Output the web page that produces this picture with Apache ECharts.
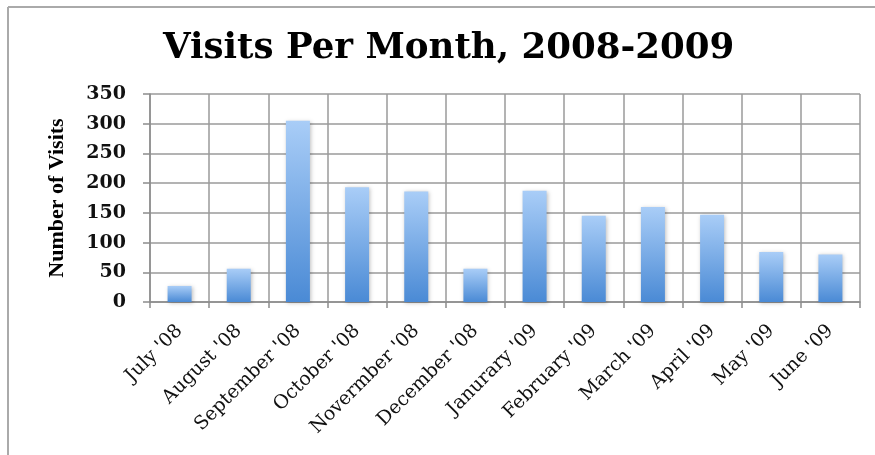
<!DOCTYPE html>
<html>
<head>
<meta charset="utf-8">
<script src="https://cdn.jsdelivr.net/npm/echarts@6/dist/echarts.min.js"></script>
<style>
html,body{margin:0;padding:0;background:#fff;}
#c{width:875px;height:455px;}
</style>
</head>
<body>
<div id="c"></div>
<script>
var months = ["July '08","August '08","September '08","October '08","Novermber '08","December '08","Janurary '09","February '09","March '09","April '09","May '09","June '09"];
var visits = [27, 56, 305, 193, 186, 56, 187, 145, 160, 147, 84, 80];
var yTicks = {min: 0, max: 350, interval: 50};
var titleText = "Visits Per Month, 2008-2009";
var yName = "Number of Visits";

var chart = echarts.init(document.getElementById('c'), null, {renderer: 'canvas'});
chart.setOption({
  backgroundColor: '#ffffff',
  animation: false,
  title: {
    text: titleText,
    left: 158,
    top: 26,
    textStyle: {fontFamily: 'DejaVu Serif', fontWeight: 'bold', fontSize: 35.6, color: '#000'}
  },
  graphic: [
    {type: 'line', shape: {x1: 8, y1: 7, x2: 875, y2: 7}, style: {stroke: '#aaaaaa', lineWidth: 2}},
    {type: 'line', shape: {x1: 8, y1: 7, x2: 8, y2: 455}, style: {stroke: '#aaaaaa', lineWidth: 2}}
  ],
  grid: {left: 150, right: 15, top: 94, bottom: 153},
  xAxis: {
    type: 'category',
    data: months,
    axisLine: {lineStyle: {color: '#8c8c8c', width: 1.5}},
    axisTick: {show: true, length: 6, lineStyle: {color: '#8c8c8c', width: 1.5}},
    splitLine: {show: true, lineStyle: {color: '#9a9a9a', width: 1.5}},
    axisLabel: {rotate: 45, margin: 26, interval: 0, fontFamily: 'DejaVu Serif', fontSize: 19, color: '#111'}
  },
  yAxis: {
    type: 'value',
    min: yTicks.min, max: yTicks.max, interval: yTicks.interval,
    name: yName,
    nameLocation: 'middle',
    nameGap: 82,
    nameRotate: 90,
    nameTextStyle: {fontFamily: 'Liberation Serif', fontWeight: 'bold', fontSize: 22, color: '#000'},
    axisLine: {show: true, lineStyle: {color: '#8c8c8c', width: 1.5}},
    axisTick: {show: true, length: 7, lineStyle: {color: '#8c8c8c', width: 1.5}},
    splitLine: {show: true, lineStyle: {color: '#9a9a9a', width: 1.5}},
    axisLabel: {margin: 24, fontFamily: 'DejaVu Serif', fontWeight: 'bold', fontSize: 19, color: '#111'}
  },
  series: [{
    type: 'bar',
    data: visits,
    barWidth: 24,
    itemStyle: {
      color: new echarts.graphic.LinearGradient(0, 0, 0, 1, [
        {offset: 0, color: '#a9cdf7'},
        {offset: 1, color: '#4a8ad5'}
      ]),
      shadowBlur: 4,
      shadowColor: 'rgba(0,0,0,0.25)',
      shadowOffsetX: 1,
      shadowOffsetY: 1
    }
  }]
});
</script>
</body>
</html>
